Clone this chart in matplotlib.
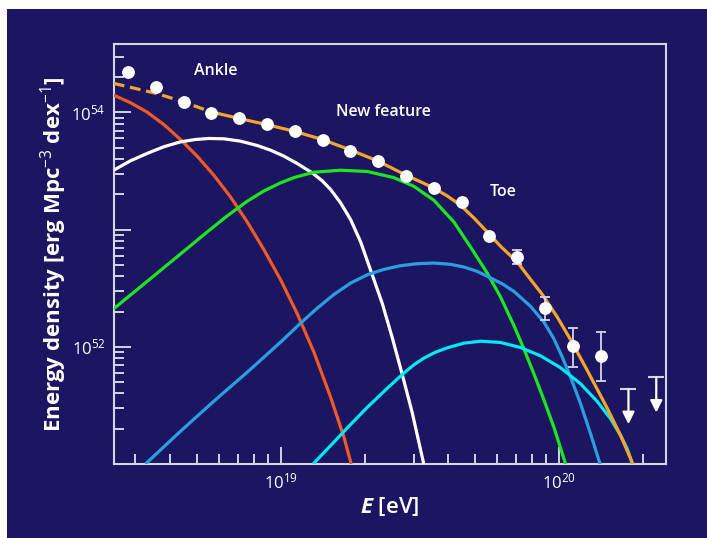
import numpy as np
import matplotlib
matplotlib.use('Agg')
import matplotlib.pyplot as plt
from matplotlib.patches import Rectangle

plt.rcParams['font.family'] = ['Open Sans', 'DejaVu Sans']
plt.rcParams['mathtext.fontset'] = 'custom'
plt.rcParams['mathtext.rm'] = 'Open Sans'
plt.rcParams['mathtext.it'] = 'Open Sans:italic'
plt.rcParams['mathtext.bf'] = 'Open Sans:bold'
plt.rcParams['mathtext.bfit'] = 'Open Sans:italic:bold'

# ---------------- data (log10 values) ----------------
# measured points: log10(E/eV), log10(energy density)
pt_logE = [18.45, 18.55, 18.65, 18.75, 18.85, 18.95, 19.05, 19.15, 19.25,
           19.35, 19.45, 19.55, 19.65, 19.75, 19.85, 19.95, 20.05, 20.15]
pt_logU = [54.342, 54.219, 54.091, 53.994, 53.949, 53.899, 53.840, 53.769,
           53.675, 53.584, 53.456, 53.357, 53.236, 52.946, 52.766, 52.330,
           52.004, 51.922]
# error bars (only last points)
err_logE = [19.85, 19.95, 20.05, 20.15]
err_lo = [52.709, 52.232, 51.832, 51.712]
err_hi = [52.829, 52.421, 52.164, 52.125]
# upper limits
ul_logE = [20.25, 20.35]
ul_logU = [51.641, 51.740]

# model components
red_logE = [18.399, 18.459, 18.519, 18.579, 18.639, 18.699, 18.759, 18.819,
            18.879, 18.939, 18.999, 19.059, 19.119, 19.179, 19.227, 19.253]
red_logU = [54.148, 54.083, 54.003, 53.897, 53.769, 53.627, 53.464, 53.279,
            53.066, 52.829, 52.573, 52.282, 51.954, 51.570, 51.228, 51.000]

white_logE = [18.399, 18.459, 18.519, 18.579, 18.639, 18.693, 18.741, 18.795,
              18.855, 18.915, 18.963, 19.011, 19.059, 19.113, 19.149, 19.179,
              19.215, 19.251, 19.287, 19.323, 19.365, 19.400, 19.436, 19.472,
              19.514]
white_logU = [53.507, 53.587, 53.650, 53.707, 53.749, 53.769, 53.778, 53.775,
              53.755, 53.718, 53.678, 53.627, 53.564, 53.484, 53.416, 53.342,
              53.228, 53.085, 52.895, 52.652, 52.368, 52.083, 51.769, 51.442,
              51.000]

green_logE = [18.399, 18.519, 18.639, 18.735, 18.807, 18.879, 18.939, 18.999,
              19.047, 19.119, 19.215, 19.311, 19.406, 19.478, 19.550, 19.622,
              19.682, 19.742, 19.790, 19.838, 19.874, 19.910, 19.946, 19.982,
              20.024]
green_logU = [52.325, 52.558, 52.792, 52.980, 53.117, 53.242, 53.330, 53.399,
              53.444, 53.490, 53.507, 53.496, 53.444, 53.370, 53.251, 53.066,
              52.852, 52.630, 52.425, 52.182, 51.983, 51.769, 51.547, 51.313,
              51.000]

blue_logE = [18.513, 18.639, 18.759, 18.879, 18.999, 19.071, 19.131, 19.191,
             19.251, 19.311, 19.371, 19.430, 19.490, 19.550, 19.610, 19.658,
             19.706, 19.748, 19.796, 19.838, 19.898, 19.946, 19.982, 20.012,
             20.042, 20.078, 20.114, 20.148]
blue_logU = [51.000, 51.279, 51.536, 51.783, 52.040, 52.202, 52.330, 52.447,
             52.544, 52.615, 52.661, 52.692, 52.709, 52.715, 52.704, 52.681,
             52.644, 52.595, 52.538, 52.473, 52.345, 52.211, 52.068, 51.912,
             51.741, 51.513, 51.256, 51.000]

cyan_logE = [19.116, 19.179, 19.239, 19.311, 19.383, 19.442, 19.478, 19.514,
             19.556, 19.598, 19.658, 19.718, 19.790, 19.862, 19.934, 20.006,
             20.078, 20.138, 20.186, 20.222, 20.246, 20.264]
cyan_logU = [51.000, 51.157, 51.308, 51.484, 51.647, 51.775, 51.846, 51.903,
             51.954, 51.991, 52.031, 52.048, 52.037, 51.994, 51.923, 51.821,
             51.684, 51.533, 51.385, 51.242, 51.128, 51.000]

total_dash_logE = [18.399, 18.553, 18.649, 18.747]
total_dash_logU = [54.248, 54.162, 54.091, 54.006]
total_logE = [18.747, 18.849, 18.948, 19.047, 19.145, 19.246, 19.347, 19.446,
              19.547, 19.598, 19.646, 19.694, 19.742, 19.790, 19.850, 19.898,
              19.940, 19.994, 20.040, 20.102, 20.173, 20.222, 20.266]
total_logU = [54.006, 53.949, 53.897, 53.840, 53.772, 53.684, 53.587, 53.470,
              53.359, 53.288, 53.208, 53.100, 52.980, 52.858, 52.724, 52.575,
              52.447, 52.254, 52.068, 51.798, 51.479, 51.242, 51.000]

annotations = [("Ankle", 18.766, 54.356), ("New feature", 19.370, 54.0),
               ("Toe", 19.799, 53.325)]

# ---------------- styling ----------------
BG = '#1c1562'
SPINE = '#d4d4e4'

fig = plt.figure(figsize=(7.07, 5.38), dpi=100, facecolor='white')
bgrect = Rectangle((7 / 707, 0), 1 - 7 / 707, 1 - 9 / 538,
                   transform=fig.transFigure, facecolor=BG,
                   edgecolor='none', zorder=-10)
fig.add_artist(bgrect)
ax = fig.add_axes([114 / 707, 1 - 464 / 538, (666 - 114) / 707, (464 - 44) / 538])
ax.set_zorder(1)
ax.set_facecolor(BG)
ax.set_xscale('log')
ax.set_yscale('log')
ax.set_xlim(10 ** 18.4, 10 ** 20.385)
ax.set_ylim(1e51, 10 ** 54.584)


def P(a):
    return 10 ** np.asarray(a)


lw = 2.3
kw = dict(lw=lw, solid_joinstyle='round', solid_capstyle='butt')
ax.plot(P(red_logE), P(red_logU), color='#f05a24', zorder=3, **kw)
ax.plot(P(white_logE), P(white_logU), color='white', zorder=3, **kw)
ax.plot(P(green_logE), P(green_logU), color='#1ee61e', zorder=3, **kw)
ax.plot(P(blue_logE), P(blue_logU), color='#2a9fdf', zorder=3, **kw)
ax.plot(P(cyan_logE), P(cyan_logU), color='#00e8f2', zorder=3, **kw)
ax.plot(P(total_dash_logE), P(total_dash_logU), color='#f5a52a', lw=lw,
        ls=(0, (3.4, 1.8)), zorder=4)
ax.plot(P(total_logE), P(total_logU), color='#f5a52a', zorder=4, **kw)

# error bars
for e, lo, hi in zip(err_logE, err_lo, err_hi):
    ax.plot([P(e), P(e)], [P(lo), P(hi)], color=SPINE, lw=1.3, zorder=5)
    ax.plot([P(e), P(e)], [P(lo), P(hi)], ls='none', marker='_', ms=7,
            mew=1.3, color=SPINE, zorder=5)
ax.plot(P(pt_logE), P(pt_logU), ls='none', marker='o', ms=8.2,
        color='white', mec='white', zorder=6)

# upper limits
for e, u in zip(ul_logE, ul_logU):
    ax.plot([P(e)], [P(u)], marker='_', ms=12, mew=1.5, color=SPINE, zorder=5)
    ax.annotate('', xy=(P(e), P(u - 0.301)), xytext=(P(e), P(u)),
                arrowprops=dict(arrowstyle='-|>', color='white', lw=1.6,
                                mutation_scale=18, shrinkA=0, shrinkB=0),
                zorder=5)

for txt, e, u in annotations:
    ax.text(P(e), P(u), txt, color='white', fontsize=11.5, fontweight='semibold',
            ha='center', va='center', zorder=7)

# axes
for side in ['left', 'bottom', 'top', 'right']:
    ax.spines[side].set_color(SPINE)
    ax.spines[side].set_linewidth(1.5)

ax.xaxis.set_major_locator(matplotlib.ticker.FixedLocator([1e19, 1e20]))
ax.xaxis.set_major_formatter(matplotlib.ticker.FixedFormatter(
    [r'10$^{19}$', r'10$^{20}$']))
ax.xaxis.set_minor_locator(matplotlib.ticker.LogLocator(base=10, subs=np.arange(2, 10)))
ax.xaxis.set_minor_formatter(matplotlib.ticker.NullFormatter())
ax.yaxis.set_major_locator(matplotlib.ticker.FixedLocator([1e51, 1e52, 1e53, 1e54]))
ax.yaxis.set_major_formatter(matplotlib.ticker.FixedFormatter(
    ['', r'10$^{52}$', '', r'10$^{54}$']))
ax.yaxis.set_minor_locator(matplotlib.ticker.LogLocator(base=10, subs=np.arange(2, 10)))
ax.yaxis.set_minor_formatter(matplotlib.ticker.NullFormatter())

ax.tick_params(which='both', direction='in', color=SPINE, labelcolor='white',
               top=False, right=False, width=1.4)
ax.tick_params(which='major', length=12, labelsize=12, pad=6)
ax.tick_params(which='minor', length=7)

ax.set_xlabel(r'$\mathbfit{E}$ [eV]', color='white', fontsize=16,
              fontweight='semibold', labelpad=3)
ax.set_ylabel(r'Energy density [erg Mpc$^{-3}$ dex$^{-1}$]', color='white',
              fontsize=16, fontweight='bold', labelpad=2)

fig.savefig('out.png', dpi=100, facecolor='white')
